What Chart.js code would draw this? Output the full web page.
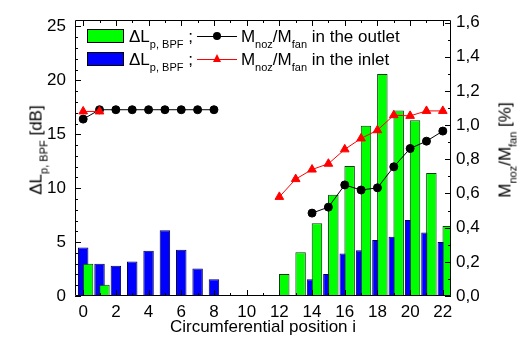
<!DOCTYPE html>
<html>
<head>
<meta charset="utf-8">
<script src="https://cdn.jsdelivr.net/npm/chart.js@4"></script>
<style>
  body { margin: 0; background: #fff; }
  #wrap { position: relative; width: 520px; height: 340px; font-family: "Liberation Sans", Arial, sans-serif; color: #000; }
  canvas { position: absolute; left: 0; top: 0; }
  sub { font-size: 11px; vertical-align: -6px; line-height: 0; }
  .ytitle { position: absolute; white-space: nowrap; font-size: 17px; line-height: 17px; transform: translate(-50%, -50%) rotate(-90deg); }
  #yl { left: 36px; top: 150px; }
  #yr { left: 505px; top: 150px; }
  .row { position: absolute; left: 87px; white-space: nowrap; font-size: 17px; line-height: 20px; }
  .sw { display: inline-block; width: 35px; height: 12px; border: 1px solid #000; vertical-align: -1px; margin-right: 5px; }
  .mk { display: inline-block; position: relative; width: 40px; height: 10px; vertical-align: 1px; margin: 0 4px 0 4px; }
  .mk .ln { position: absolute; left: 0; right: 0; top: 4.5px; height: 1px; }
  .mk .dot { position: absolute; left: 16px; top: 1px; width: 8px; height: 8px; border-radius: 50%; background: #000; }
  .mk .tri { position: absolute; left: 16px; top: 0; width: 0; height: 0; border-left: 4.5px solid transparent; border-right: 4.5px solid transparent; border-bottom: 8px solid #f00; }
</style>
</head>
<body>
<div id="wrap">
  <canvas id="chart" width="520" height="340"></canvas>
  <div class="ytitle" id="yl">&Delta;L<sub>p, BPF</sub> [dB]</div>
  <div class="ytitle" id="yr">M<sub>noz</sub>/M<sub>fan</sub> [%]</div>
  <div class="row" style="top:27px"><span class="sw" style="background:#00ff00"></span>&Delta;L<sub>p, BPF</sub> ;<span class="mk"><i class="ln" style="background:#000"></i><i class="dot"></i></span>M<sub>noz</sub>/M<sub>fan</sub> in the outlet</div>
  <div class="row" style="top:50px"><span class="sw" style="background:#0000ff"></span>&Delta;L<sub>p, BPF</sub> ;<span class="mk"><i class="ln" style="background:#f00"></i><i class="tri"></i></span>M<sub>noz</sub>/M<sub>fan</sub> in the inlet</div>
</div>
<script>
// circumferential positions
const positions = [0, 1, 2, 3, 4, 5, 6, 7, 8, 9, 10, 11, 12, 13, 14, 15, 16, 17, 18, 19, 20, 21, 22];

// delta L_p,BPF [dB]
const outletBars = [3.0, 1.05, null, null, null, null, null, null, null, null, null, null,
  2.05, 4.05, 6.75, 9.4, 12.05, 15.8, 20.6, 17.2, 16.3, 11.4, 6.5];
const inletBars = [4.5, 3.0, 2.8, 3.2, 4.2, 6.1, 4.3, 2.55, 1.55, null, null, null,
  null, null, 1.55, 2.05, 3.95, 4.25, 5.2, 5.5, 7.05, 5.9, 5.0];

// M_noz / M_fan [%]
const outletRatio = [1.035, 1.09, 1.09, 1.09, 1.09, 1.09, 1.09, 1.09, 1.09, null, null, null,
  null, null, 0.485, 0.52, 0.65, 0.62, 0.633, 0.756, 0.863, 0.906, 0.965];
const inletRatio = [1.08, 1.08, null, null, null, null, null, null, null, null, null, null,
  0.58, 0.684, 0.74, 0.774, 0.858, 0.922, 0.97, 1.058, 1.054, 1.083, 1.083];

const xTicks = [0, 2, 4, 6, 8, 10, 12, 14, 16, 18, 20, 22];
const leftTicks = [0, 5, 10, 15, 20, 25];
const rightTicks = [0, 0.2, 0.4, 0.6, 0.8, 1.0, 1.2, 1.4, 1.6];

const FONT = { family: '"Liberation Sans", Arial, sans-serif', size: 17 };

function pairs(values) {
  return positions.map((p, i) => ({ x: p, y: values[i] }));
}

// inward ticks on all four sides plus the frame
const frameTicks = {
  id: "frameTicks",
  afterDraw(chart) {
    const { ctx, chartArea: a, scales } = chart;
    ctx.save();
    ctx.strokeStyle = "#000";
    ctx.lineWidth = 1;
    ctx.beginPath();
    ctx.rect(a.left + 0.5, a.top + 0.5, a.right - a.left - 1, a.bottom - a.top - 1);
    for (let v = 0; v <= 22; v++) {
      const px = Math.round(scales.x.getPixelForValue(v)) + 0.5;
      const len = v % 2 === 0 ? 6 : 3;
      ctx.moveTo(px, a.bottom);
      ctx.lineTo(px, a.bottom - len);
      ctx.moveTo(px, a.top);
      ctx.lineTo(px, a.top + len);
    }
    for (let v = 0; v <= 25; v++) {
      const py = Math.round(scales.y.getPixelForValue(v)) + 0.5;
      const len = v % 5 === 0 ? 6 : 3;
      ctx.moveTo(a.left, py);
      ctx.lineTo(a.left + len, py);
    }
    for (let k = 0; k <= 16; k++) {
      const py = Math.round(scales.y2.getPixelForValue(k / 10)) + 0.5;
      const len = k % 2 === 0 ? 6 : 3;
      ctx.moveTo(a.right, py);
      ctx.lineTo(a.right - len, py);
    }
    ctx.stroke();
    ctx.restore();
  },
};

new Chart(document.getElementById("chart"), {
  data: {
    datasets: [
      {
        type: "line",
        data: pairs(inletRatio),
        xAxisID: "x",
        yAxisID: "y2",
        borderColor: "#ff0000",
        borderWidth: 1,
        pointStyle: "triangle",
        pointRadius: 5,
        pointBackgroundColor: "#ff0000",
        pointBorderColor: "#ff0000",
        spanGaps: false,
        order: 0,
      },
      {
        type: "line",
        data: pairs(outletRatio),
        xAxisID: "x",
        yAxisID: "y2",
        borderColor: "#000",
        borderWidth: 1,
        pointStyle: "circle",
        pointRadius: 4,
        pointBackgroundColor: "#000",
        pointBorderColor: "#000",
        spanGaps: false,
        order: 1,
      },
      {
        type: "bar",
        data: pairs(outletBars),
        xAxisID: "xg",
        yAxisID: "y",
        backgroundColor: "#00ff00",
        borderColor: "#0a3a0a",
        borderWidth: 1,
        grouped: false,
        categoryPercentage: 1,
        barPercentage: 0.64,
        order: 2,
      },
      {
        type: "bar",
        data: pairs(inletBars),
        xAxisID: "x",
        yAxisID: "y",
        backgroundColor: "#0000ff",
        borderColor: "#000050",
        borderWidth: 1,
        grouped: false,
        categoryPercentage: 1,
        barPercentage: 0.64,
        order: 3,
      },
    ],
  },
  options: {
    responsive: false,
    animation: false,
    layout: { padding: { top: 20, left: 0, right: 0, bottom: 0 } },
    plugins: { legend: { display: false }, tooltip: { enabled: false } },
    scales: {
      x: {
        type: "linear",
        position: "bottom",
        offset: false,
        min: -0.5,
        max: 22.5,
        afterBuildTicks: (s) => { s.ticks = xTicks.map((v) => ({ value: v })); },
        afterFit: (s) => { s.height = 44; },
        grid: { display: false, drawTicks: false, offset: false },
        border: { display: false },
        ticks: { color: "#000", font: FONT, padding: 6, maxRotation: 0 },
        title: {
          display: true,
          text: "Circumferential position i",
          color: "#000",
          font: FONT,
          padding: { top: 0, bottom: 2 },
        },
      },
      xg: {
        type: "linear",
        display: false,
        offset: false,
        grid: { offset: false },
        min: -0.8,
        max: 22.2,
      },
      y: {
        position: "left",
        min: 0,
        max: 25.6,
        afterBuildTicks: (s) => { s.ticks = leftTicks.map((v) => ({ value: v })); },
        afterFit: (s) => { s.width = 75; },
        grid: { display: false, drawTicks: false },
        border: { display: false },
        ticks: { color: "#000", font: FONT, padding: 9 },
      },
      y2: {
        position: "right",
        min: 0,
        max: 1.615,
        afterBuildTicks: (s) => { s.ticks = rightTicks.map((v) => ({ value: v })); },
        afterFit: (s) => { s.width = 69; },
        grid: { display: false, drawTicks: false },
        border: { display: false },
        ticks: {
          color: "#000",
          font: FONT,
          padding: 5,
          callback: (v) => v.toFixed(1).replace(".", ","),
        },
      },
    },
  },
  plugins: [frameTicks],
});
</script>
</body>
</html>
